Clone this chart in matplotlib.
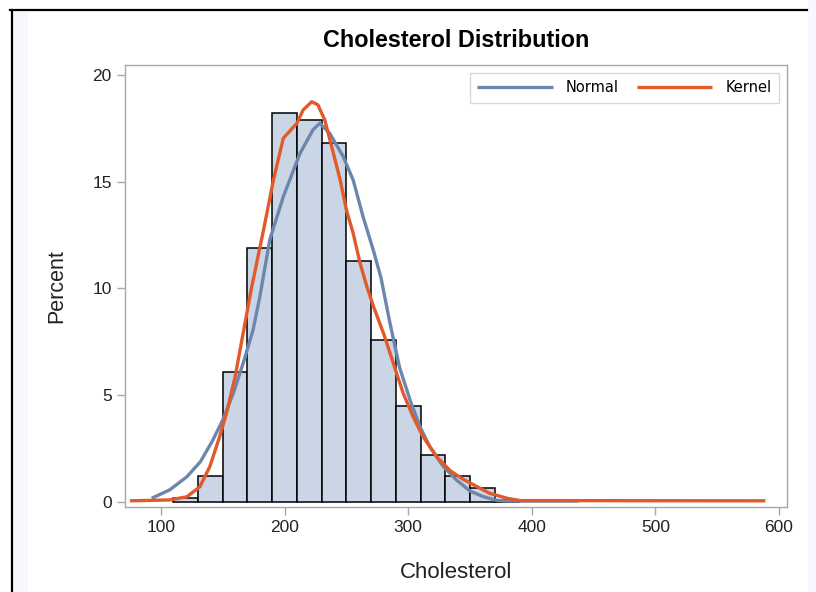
import matplotlib.pyplot as plt
from matplotlib.patches import Rectangle
from matplotlib.lines import Line2D

# Histogram bins (left edges, width 20) and percent per bin
bin_left = [110, 130, 150, 170, 190, 210, 230, 250, 270, 290, 310, 330, 350, 370]
bin_pct = [0.17, 1.2, 6.1, 11.9, 18.2, 17.9, 16.8, 11.3, 7.6, 4.5, 2.2, 1.2, 0.62, 0.08]
bin_width = 20

# Fitted normal curve
normal_x = [92.5, 107, 121, 132, 142, 150, 158.5, 166.5, 174.5, 180, 188, 199, 212.5,
            223, 228.5, 236.5, 247.5, 255.5, 263.5, 272, 278, 285, 293, 301.5, 309.5,
            317.5, 328.5, 339, 350, 360, 370, 380, 437.5]
normal_y = [0.16, 0.55, 1.17, 1.88, 2.89, 3.83, 5.08, 6.49, 8.05, 9.61, 12.27, 14.3, 16.33,
            17.43, 17.74, 17.27, 16.17, 15.08, 13.36, 11.75, 10.5, 8.45, 6.3, 4.77, 3.52,
            2.58, 1.64, 1.02, 0.5, 0.25, 0.08, 0.03, 0.03]

# Kernel density curve
kernel_x = [75, 107, 121, 131.5, 139.5, 147.5, 153, 160, 166.5, 173, 183, 191, 199,
            210, 215, 222, 227, 232.5, 239.5, 245, 250, 255.5, 261, 266.5, 272, 280,
            288, 296, 304, 312, 323, 334, 344.5, 351, 366, 380, 390.5, 589]
kernel_y = [0.04, 0.08, 0.23, 0.7, 1.64, 3.05, 4.14, 5.86, 7.9, 9.95, 12.74, 15.08, 17.04,
            17.74, 18.36, 18.75, 18.6, 17.9, 16.33, 15.08, 13.68, 12.58, 11.2, 10.1, 9.14, 7.9,
            6.49, 5.08, 3.98, 3.05, 2.11, 1.45, 1.05, 0.85, 0.39, 0.16, 0.05, 0.04]

plt.rcParams['font.family'] = ['Liberation Sans', 'DejaVu Sans']

fig = plt.figure(figsize=(8.16, 5.92), dpi=100)

# outer frame look (black border on top/left, pale side strips)
fig.patches.append(Rectangle((13 / 816, 0), 15 / 816, 580 / 592, transform=fig.transFigure,
                             facecolor='#f6f8fd', edgecolor='none', zorder=0))
fig.patches.append(Rectangle((808 / 816, 0), 8 / 816, 1, transform=fig.transFigure,
                             facecolor='#f6f8fd', edgecolor='none', zorder=0))
fig.lines.append(Line2D([10 / 816, 807 / 816], [582 / 592, 582 / 592], transform=fig.transFigure,
                        color='black', linewidth=1.6))
fig.lines.append(Line2D([11.5 / 816, 11.5 / 816], [0, 582 / 592], transform=fig.transFigure,
                        color='black', linewidth=1.6))

ax = fig.add_axes([125 / 816, 85 / 592, 662 / 816, 442 / 592])

ax.bar(bin_left, bin_pct, width=bin_width, align='edge', color='#cad5e5',
       edgecolor='black', linewidth=1.1, zorder=2)
ax.plot(normal_x, normal_y, color='#6d86ae', linewidth=2.4, label='Normal', zorder=3,
        solid_capstyle='butt')
ax.plot(kernel_x, kernel_y, color='#e2592a', linewidth=2.4, label='Kernel', zorder=4,
        solid_capstyle='butt')

ax.set_xlim(70.9, 606.5)
ax.set_ylim(-0.25, 20.47)
ax.set_xticks([100, 200, 300, 400, 500, 600])
ax.set_yticks([0, 5, 10, 15, 20])

for s in ax.spines.values():
    s.set_color('#a8a8a8')
    s.set_linewidth(1.0)
ax.tick_params(colors='#a8a8a8', labelcolor='#222222', labelsize=12.5, length=6, width=1)

ax.set_xlabel('Cholesterol', fontsize=16, color='#222222', labelpad=19)
ax.set_ylabel('Percent', fontsize=15.5, color='#222222', labelpad=18)
ax.set_title('Cholesterol Distribution', fontsize=16.8, fontweight='bold', pad=13)

leg = ax.legend(loc='upper right', ncol=2, frameon=True, fancybox=False,
                prop={'family': 'DejaVu Sans', 'size': 10.5}, handlelength=5.2,
                columnspacing=1.2, handletextpad=0.9, borderaxespad=0.55,
                borderpad=0.5)
leg.get_frame().set_edgecolor('#d0d0d0')
leg.get_frame().set_linewidth(1.0)

fig.savefig('out.png', dpi=100)
